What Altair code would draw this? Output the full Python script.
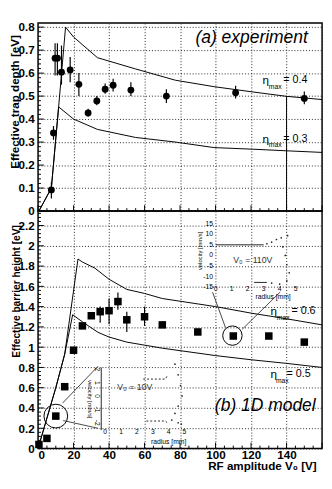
import altair as alt
import pandas as pd

# ---------------- data ----------------
# (a) experiment: effective trap depth [eV] vs RF amplitude V0 [V]
exp_V = [7.5, 8.7, 9.6, 10.9, 13.2, 18.1, 23.0, 28.2, 33.1, 37.8, 42.3, 52.3, 72.3, 111.3, 150.0]
exp_d = [0.092, 0.34, 0.665, 0.665, 0.604, 0.614, 0.551, 0.427, 0.479, 0.530, 0.547, 0.526, 0.500, 0.515, 0.490]
exp_lo = [0.055, 0.31, 0.59, 0.59, 0.55, 0.56, 0.50, 0.41, 0.46, 0.51, 0.52, 0.50, 0.47, 0.49, 0.465]
exp_hi = [0.125, 0.37, 0.73, 0.73, 0.72, 0.67, 0.60, 0.445, 0.50, 0.555, 0.575, 0.56, 0.53, 0.545, 0.52]

eta04_V = [0.5, 7.5, 11.6, 15.5, 20, 33.5, 55, 77.4, 99.2, 121, 140, 160]
eta04_d = [0.0, 0.10, 0.453, 0.80, 0.757, 0.667, 0.618, 0.569, 0.541, 0.518, 0.499, 0.485]
eta03_V = [0.5, 7.5, 11.6, 20, 33.5, 55, 77.4, 99.2, 121, 140, 160]
eta03_d = [0.0, 0.10, 0.453, 0.40, 0.355, 0.32, 0.30, 0.276, 0.269, 0.262, 0.255]

# (b) 1D model: effective barrier height [eV]
mod_V = [0.5, 5, 10, 15, 20, 25, 30, 35, 40, 45, 50, 60, 70, 90, 110, 130, 150]
mod_h = [0.04, 0.10, 0.32, 0.61, 0.97, 1.21, 1.31, 1.35, 1.36, 1.45, 1.27, 1.30, 1.22, 1.15, 1.11, 1.11, 1.05]
mod_lo = [0.04, 0.10, 0.32, 0.61, 0.97, 1.21, 1.29, 1.24, 1.225, 1.37, 1.15, 1.21, 1.22, 1.15, 1.11, 1.11, 1.05]
mod_hi = [0.04, 0.10, 0.32, 0.61, 0.97, 1.21, 1.34, 1.40, 1.48, 1.54, 1.35, 1.40, 1.22, 1.15, 1.11, 1.11, 1.05]

eta06_V = [0, 5, 10, 15, 22.5, 25, 32, 40, 50, 60, 70, 100, 120, 140, 160]
eta06_h = [0, 0.3, 0.6, 0.93, 1.87, 1.84, 1.78, 1.67, 1.57, 1.53, 1.48, 1.40, 1.336, 1.28, 1.22]
eta05_V = [0, 5, 10, 15, 19.5, 25, 33.8, 40, 50, 60, 70, 100, 120, 140, 160]
eta05_h = [0, 0.3, 0.6, 0.93, 1.32, 1.25, 1.146, 1.10, 1.05, 1.02, 0.99, 0.917, 0.876, 0.84, 0.80]

# inset phase-space sketches (radius [mm], velocity [mm/s])
in1_line1_r = [0.0, 3.0]
in1_line1_v = [5.0, 5.0]
in1_dots_r = [3.2, 3.5, 3.8, 4.1, 4.5, 4.2, 4.35, 4.45, 4.6, 4.45, 4.0, 3.5]
in1_dots_v = [5.5, 6.3, 7.5, 8.3, 9.3, 4.0, 0.0, -4.4, -8.2, -12.0, -13.5, -13.0]
in1_line2_r = [2.4, 3.2]
in1_line2_v = [-12.7, -12.7]
in1_yticks = [15, 10, 5, 0, -5, -10, -15]
in1_xticks = [0, 1, 2, 3, 4, 5]

in2_top_r = [2.4, 3.8, 3.95]
in2_top_v = [1.28, 1.28, 1.6]
in2_bot_r = [2.6, 3.8, 4.0]
in2_bot_v = [-1.87, -1.87, -2.1]
in2_dots_r = [4.4, 4.6, 4.75, 4.85, 4.6, 4.4, 4.2, 4.6, 4.8]
in2_dots_v = [2.4, 1.6, 0.8, 0.0, -0.75, -1.3, -1.8, -2.0, -2.1]
in2_yticks = [2, 1, 0, -1, -2]
in2_xticks = [0, 1, 2, 3, 4, 5]

FONT = "Liberation Sans"
W = 293
H_TOP = 194
H_BOT = 245
XS = alt.Scale(domain=[0, 160], nice=False, zero=False)
YS_TOP = alt.Scale(domain=[0, 0.818], nice=False, zero=False)
YS_BOT = alt.Scale(domain=[0, 2.343], nice=False, zero=False)

grid = dict(grid=True, gridColor="#222", gridDash=[1, 2], gridWidth=1, ticks=False, tickSize=0, domain=False)
ylab = dict(labelExpr="format(datum.value, '.1~f')", labelFont=FONT, labelFontWeight="bold",
            labelFontSize=12, labelPadding=4, labelColor="black", titleFont=FONT, titleFontWeight="bold",
            titleColor="black", titleAlign="right", titleBaseline="bottom",
            titleAngle=270, titleX=-17)
AX_X_TOP = alt.Axis(values=list(range(0, 161, 20)), labels=False, title=None, labelPadding=0, **grid)
AX_X_BOT = alt.Axis(values=list(range(0, 141, 20)), labelFont=FONT, labelFontWeight="bold",
                    labelFontSize=12, labelPadding=1, labelColor="black",
                    title="RF amplitude V₀ [V]", titleFont=FONT, titleFontWeight="bold", titleFontSize=12,
                    titleColor="black", titleAlign="right", titleBaseline="top", titleX=W - 6, titleY=13,
                    **grid)
AX_Y_TOP = alt.Axis(values=[0, 0.1, 0.2, 0.3, 0.4, 0.5, 0.6, 0.7, 0.8],
                    title="Effective trap depth [eV]", titleY=12, titleFontSize=12, **ylab, **grid)
AX_Y_BOT = alt.Axis(values=[0, 0.2, 0.4, 0.6, 0.8, 1, 1.2, 1.4, 1.6, 1.8, 2, 2.2],
                    title="Effective barrier height [eV]", titleY=14, titleFontSize=10.5, **ylab, **grid)


def enc(ax_x, ax_y, ys, **kw):
    e = dict(x=alt.X("V:Q", scale=XS, axis=ax_x), y=alt.Y("val:Q", scale=ys, axis=ax_y))
    e.update(kw)
    return e


def curve_df(vs, ys, name):
    return pd.DataFrame({"V": vs, "val": ys, "c": name, "o": range(len(vs))})


def tick_layers(ax_x, ax_y, ys, ymaj, ymin, px_per_val):
    # small tick marks inside the frame along the bottom and left edges
    xmaj = list(range(0, 161, 20))
    xmin = [v for v in range(0, 161, 5) if v % 20]
    lx = W / 160.0
    rows = []
    for v in xmaj:
        rows.append({"V": v, "val": 0, "V2": v, "val2": 6 / px_per_val})
    for v in xmin:
        rows.append({"V": v, "val": 0, "V2": v, "val2": 3 / px_per_val})
    for y in ymaj:
        rows.append({"V": 0, "val": y, "V2": 6 / lx, "val2": y})
    for y in ymin:
        rows.append({"V": 0, "val": y, "V2": 3 / lx, "val2": y})
    df = pd.DataFrame(rows)
    return alt.Chart(df).mark_rule(color="black", strokeWidth=1).encode(
        x=alt.X("V:Q", scale=XS, axis=ax_x), x2="V2:Q",
        y=alt.Y("val:Q", scale=ys, axis=ax_y), y2="val2:Q")


def text_layer(df, ax_x, ax_y, ys, **mark):
    base = dict(font=FONT, color="black")
    base.update(mark)
    return alt.Chart(df).mark_text(**base).encode(
        x=alt.X("V:Q", scale=XS, axis=ax_x), y=alt.Y("val:Q", scale=ys, axis=ax_y), text="t:N")


# ---------------- top panel ----------------
PX_TOP = H_TOP / 0.818
top_ymaj = [0.1 * i for i in range(9)]
top_ymin = [0.02 * i for i in range(41) if i % 5]
top_ticks = tick_layers(AX_X_TOP, AX_Y_TOP, YS_TOP, top_ymaj, top_ymin, PX_TOP)

top_curves = pd.concat([curve_df(eta04_V, eta04_d, "0.4"), curve_df(eta03_V, eta03_d, "0.3")])
top_lines = alt.Chart(top_curves).mark_line(color="black", strokeWidth=1, clip=True).encode(
    **enc(AX_X_TOP, AX_Y_TOP, YS_TOP, detail="c:N", order="o:Q"))

exp_df = pd.DataFrame({"V": exp_V, "val": exp_d, "lo": exp_lo, "hi": exp_hi})
exp_err = alt.Chart(exp_df).mark_rule(color="black", strokeWidth=1.2).encode(
    x=alt.X("V:Q", scale=XS, axis=AX_X_TOP), y=alt.Y("lo:Q", scale=YS_TOP, axis=AX_Y_TOP), y2="hi:Q")
exp_pts = alt.Chart(exp_df).mark_point(shape="circle", filled=True, color="black", size=50, opacity=1).encode(
    **enc(AX_X_TOP, AX_Y_TOP, YS_TOP))

vline_df = pd.DataFrame({"V": [140], "val": [0.0], "val2": [0.5]})
vline = alt.Chart(vline_df).mark_rule(color="black", strokeWidth=1).encode(
    x=alt.X("V:Q", scale=XS, axis=AX_X_TOP), y=alt.Y("val:Q", scale=YS_TOP, axis=AX_Y_TOP), y2="val2:Q")

top_title = text_layer(pd.DataFrame({"V": [152], "val": [0.75], "t": ["(a) experiment"]}),
                       AX_X_TOP, AX_Y_TOP, YS_TOP, align="right", baseline="middle",
                       fontSize=18, fontStyle="italic")
top_eta = text_layer(pd.DataFrame({"V": [126.4, 126.4], "val": [0.569, 0.314], "t": ["η", "η"]}),
                     AX_X_TOP, AX_Y_TOP, YS_TOP, align="left", baseline="middle", fontSize=12)
top_max = text_layer(pd.DataFrame({"V": [130.0, 130.0], "val": [0.541, 0.286], "t": ["max", "max"]}),
                     AX_X_TOP, AX_Y_TOP, YS_TOP, align="left", baseline="middle", fontSize=7)
top_eq = text_layer(pd.DataFrame({"V": [138.2, 138.2], "val": [0.569, 0.314], "t": ["= 0.4", "= 0.3"]}),
                    AX_X_TOP, AX_Y_TOP, YS_TOP, align="left", baseline="middle", fontSize=11)

top = alt.layer(top_ticks, vline, top_lines, exp_err, exp_pts, top_title, top_eta, top_max, top_eq).properties(
    width=W, height=H_TOP)

# ---------------- bottom panel ----------------
PX_BOT = H_BOT / 2.343
bot_ymaj = [0.2 * i for i in range(12)]
bot_ymin = [0.04 * i for i in range(59) if i % 5]
bot_ticks = tick_layers(AX_X_BOT, AX_Y_BOT, YS_BOT, bot_ymaj, bot_ymin, PX_BOT)

bot_curves = pd.concat([curve_df(eta06_V, eta06_h, "0.6"), curve_df(eta05_V, eta05_h, "0.5")])
bot_lines = alt.Chart(bot_curves).mark_line(color="black", strokeWidth=1, clip=True).encode(
    **enc(AX_X_BOT, AX_Y_BOT, YS_BOT, detail="c:N", order="o:Q"))

mod_df = pd.DataFrame({"V": mod_V, "val": mod_h, "lo": mod_lo, "hi": mod_hi})
mod_err = alt.Chart(mod_df).mark_rule(color="black", strokeWidth=1.2).encode(
    x=alt.X("V:Q", scale=XS, axis=AX_X_BOT), y=alt.Y("lo:Q", scale=YS_BOT, axis=AX_Y_BOT), y2="hi:Q")
mod_pts = alt.Chart(mod_df).mark_square(filled=True, color="black", size=60, opacity=1).encode(
    **enc(AX_X_BOT, AX_Y_BOT, YS_BOT))


# insets placed in data units of the panel
def i1(r, v):
    return 100.1 + 9.0 * r, 1.905 + 0.02095 * v


def i2(r, v):
    return 37.8 + 8.94 * r, 0.517 + 0.1314 * v


def inset_df(fn, rs, vs, name):
    pts = [fn(r, v) for r, v in zip(rs, vs)]
    return pd.DataFrame({"V": [p[0] for p in pts], "val": [p[1] for p in pts], "c": name, "o": range(len(pts))})


solid_df = pd.concat([inset_df(i1, in1_line1_r, in1_line1_v, "a"), inset_df(i1, in1_line2_r, in1_line2_v, "b"),
                      pd.DataFrame({"V": [35.6, 35.6], "val": [i2(0, 2.15)[1], i2(0, -2.55)[1]], "c": "ax2", "o": [0, 1]})])
inset_solid = alt.Chart(solid_df).mark_line(color="#222", strokeWidth=1).encode(
    **enc(AX_X_BOT, AX_Y_BOT, YS_BOT, detail="c:N", order="o:Q"))
dash_df = pd.concat([inset_df(i2, in2_top_r, in2_top_v, "t"), inset_df(i2, in2_bot_r, in2_bot_v, "b")])
inset_dash = alt.Chart(dash_df).mark_line(color="#222", strokeWidth=1, strokeDash=[2, 2]).encode(
    **enc(AX_X_BOT, AX_Y_BOT, YS_BOT, detail="c:N", order="o:Q"))
dots_df = pd.concat([inset_df(i1, in1_dots_r, in1_dots_v, "d1"), inset_df(i2, in2_dots_r, in2_dots_v, "d2")])
inset_dots = alt.Chart(dots_df).mark_circle(color="#222", size=3, opacity=1).encode(
    **enc(AX_X_BOT, AX_Y_BOT, YS_BOT))

i1_ylab = pd.DataFrame({"V": [98.6] * len(in1_yticks), "val": [i1(0, v)[1] for v in in1_yticks],
                        "t": [str(v) for v in in1_yticks]})
i1_xlab = pd.DataFrame({"V": [i1(r, 0)[0] for r in in1_xticks], "val": [i1(0, -15.8)[1]] * len(in1_xticks),
                        "t": [str(r) for r in in1_xticks]})
i2_ylab = pd.DataFrame({"V": [32.9] * len(in2_yticks), "val": [i2(0, v)[1] for v in in2_yticks],
                        "t": [str(v) for v in in2_yticks]})
i2_xlab = pd.DataFrame({"V": [i2(r, 0)[0] for r in in2_xticks], "val": [0.162] * len(in2_xticks),
                        "t": [str(r) for r in in2_xticks]})

in_lab1 = text_layer(i1_ylab, AX_X_BOT, AX_Y_BOT, YS_BOT, align="right", baseline="middle", fontSize=7)
in_lab2 = text_layer(pd.concat([i1_xlab, i2_xlab]), AX_X_BOT, AX_Y_BOT, YS_BOT, align="center",
                     baseline="middle", fontSize=7)
in_lab3 = text_layer(i2_ylab, AX_X_BOT, AX_Y_BOT, YS_BOT, align="center", baseline="middle", fontSize=7, angle=90)
in_titles = text_layer(pd.DataFrame({"V": [132.4, 73.6], "val": [1.495, 0.067], "t": ["radius [mm]", "radius [mm]"]}),
                       AX_X_BOT, AX_Y_BOT, YS_BOT, align="center", baseline="middle", fontSize=7)
in_vel1 = text_layer(pd.DataFrame({"V": [91.0], "val": [1.95], "t": ["velocity [mm/s]"]}),
                     AX_X_BOT, AX_Y_BOT, YS_BOT, align="center", baseline="middle", fontSize=6, angle=270)
in_vel2 = text_layer(pd.DataFrame({"V": [29.3], "val": [0.486], "t": ["velocity [mm/s]"]}),
                     AX_X_BOT, AX_Y_BOT, YS_BOT, align="center", baseline="middle", fontSize=6, angle=90)
in_v0 = text_layer(pd.DataFrame({"V": [121.0, 54.5], "val": [1.857, 0.61], "t": ["V₀ = 110V", "V₀ = 10V"]}),
                   AX_X_BOT, AX_Y_BOT, YS_BOT, align="center", baseline="middle", fontSize=9, color="#333")

circ_df = pd.DataFrame({"V": [10.0, 109.5], "val": [0.32, 1.114], "s": [600, 400]})
circles = alt.Chart(circ_df).mark_point(shape="circle", filled=False, color="black", strokeWidth=1, opacity=1).encode(
    **enc(AX_X_BOT, AX_Y_BOT, YS_BOT, size=alt.Size("s:Q", scale=None, legend=None)))
call_df = pd.DataFrame({"V": [13.8, 33.8, 14.2, 33.8, 105.6, 98.3, 115.1, 136.4],
                        "val": [0.448, 0.812, 0.276, 0.2, 1.193, 1.543, 1.178, 1.543],
                        "c": ["a", "a", "b", "b", "c", "c", "d", "d"], "o": [0, 1] * 4})
callouts = alt.Chart(call_df).mark_line(color="#444", strokeWidth=1).encode(
    **enc(AX_X_BOT, AX_Y_BOT, YS_BOT, detail="c:N", order="o:Q"))

bot_title = text_layer(pd.DataFrame({"V": [156.4], "val": [0.42], "t": ["(b) 1D model"]}),
                       AX_X_BOT, AX_Y_BOT, YS_BOT, align="right", baseline="middle", fontSize=18, fontStyle="italic")
bot_eta = text_layer(pd.DataFrame({"V": [131.0, 131.0], "val": [1.352, 0.733], "t": ["η", "η"]}),
                     AX_X_BOT, AX_Y_BOT, YS_BOT, align="left", baseline="middle", fontSize=12)
bot_max = text_layer(pd.DataFrame({"V": [134.5, 134.0], "val": [1.283, 0.67], "t": ["max", "max"]}),
                     AX_X_BOT, AX_Y_BOT, YS_BOT, align="left", baseline="middle", fontSize=7)
bot_eq = text_layer(pd.DataFrame({"V": [142.8, 140.0], "val": [1.352, 0.733], "t": ["= 0.6", "= 0.5"]}),
                    AX_X_BOT, AX_Y_BOT, YS_BOT, align="left", baseline="middle", fontSize=11)

bottom = alt.layer(bot_ticks, bot_lines, callouts, circles, inset_solid, inset_dash, inset_dots,
                   in_lab1, in_lab2, in_lab3, in_titles, in_vel1, in_vel2, in_v0,
                   mod_err, mod_pts, bot_title, bot_eta, bot_max, bot_eq).properties(width=W, height=H_BOT)

chart = alt.vconcat(top, bottom, spacing=0, bounds="flush").configure(
    padding={"left": 0, "top": 5, "right": 0, "bottom": 0}, font=FONT
).configure_view(stroke="black", strokeWidth=1.5)

chart.save("out.html", embed_options={"renderer": "svg", "actions": False})
